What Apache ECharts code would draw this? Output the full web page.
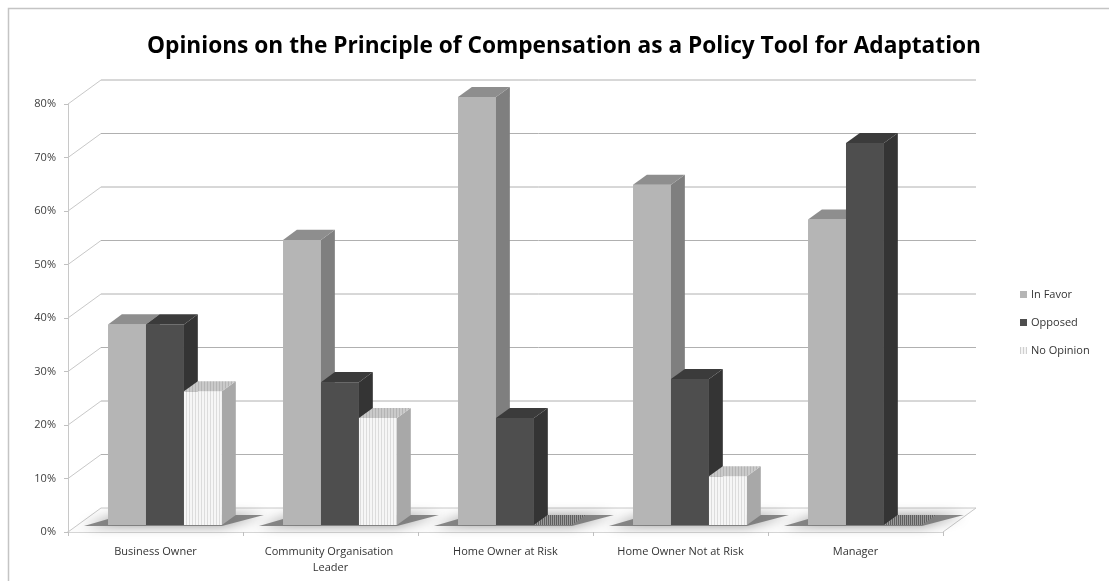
<!DOCTYPE html>
<html>
<head>
<meta charset="utf-8">
<script src="https://cdn.jsdelivr.net/npm/echarts@6/dist/echarts.min.js"></script>
<style>
  html, body { margin: 0; padding: 0; background: #fff; }
  #chart { width: 1109px; height: 581px; }
</style>
</head>
<body>
<div id="chart"></div>
<script>
// Survey shares (percent of respondents in each group)
const categories = ['Business Owner', 'Community Organisation Leader', 'Home Owner at Risk', 'Home Owner Not at Risk', 'Manager'];
const inFavor   = [37.5, 53.3, 80.0, 63.6, 57.1];
const opposed   = [37.5, 26.7, 20.0, 27.3, 71.4];
const noOpinion = [25.0, 20.0, 0.0, 9.1, 0.0];
const yTicks    = [0, 10, 20, 30, 40, 50, 60, 70, 80];
const seriesNames = ['In Favor', 'Opposed', 'No Opinion'];

// Oblique projection of the 3D box: full floor depth as a screen vector
const DEPTH = [33, -24];
const BAR_FRONT = 0.29;   // depth where the bar front faces sit
const BAR_DEPTH = 0.42;   // thickness of a bar along the depth
const BAR_W = 0.217;      // bar width as a share of the category band
const GROUP_START = 0.174;
const FONT = 'Open Sans';

function stripes(bg, line, w) {
  const c = document.createElement('canvas');
  c.width = w; c.height = 4;
  const g = c.getContext('2d');
  g.fillStyle = bg; g.fillRect(0, 0, w, 4);
  g.fillStyle = line; g.fillRect(0, 0, 1, 4);
  return { image: c, repeat: 'repeat' };
}
const noOpinionFront = stripes('#f6f6f6', '#dcdcdc', 3);
const noOpinionTop = stripes('#cacaca', '#b4b4b4', 3);
const emptyTop = stripes('#9a9a9a', '#5e5e5e', 2);

const faces = [
  { front: '#b5b5b5', side: '#7f7f7f', top: '#8e8e8e' },
  { front: '#4e4e4e', side: '#343434', top: '#3b3b3b' },
  { front: noOpinionFront, side: '#a8a8a8', top: noOpinionTop }
];

function groupLeft(api, idx) {
  const band = api.size([1, 0])[0];
  const c = api.coord([idx, 0]);
  return { x: c[0] - band / 2 + band * GROUP_START + DEPTH[0] * BAR_FRONT, y: c[1] + DEPTH[1] * BAR_FRONT, band: band };
}

function barRenderer(k) {
  return function (params, api) {
    const idx = api.value(0), v = api.value(1);
    const g = groupLeft(api, idx);
    const w = g.band * BAR_W;
    const xL = g.x + k * w, xR = xL + w;
    const yB = g.y, yT = api.coord([idx, v])[1] + DEPTH[1] * BAR_FRONT;
    const dx = DEPTH[0] * BAR_DEPTH, dy = DEPTH[1] * BAR_DEPTH;
    const f = faces[k];
    const children = [];
    if (v > 0) {
      children.push({ type: 'rect', shape: { x: xL, y: yT, width: w, height: yB - yT }, style: { fill: f.front } });
      children.push({ type: 'polygon', shape: { points: [[xR, yT], [xR + dx, yT + dy], [xR + dx, yB + dy], [xR, yB]] }, style: { fill: f.side } });
    }
    children.push({ type: 'polygon', shape: { points: [[xL, yT], [xR, yT], [xR + dx, yT + dy], [xL + dx, yT + dy]] }, style: { fill: v > 0 ? f.top : emptyTop } });
    return { type: 'group', children: children };
  };
}

// Back wall, side wall and floor lines for each tick value
function wallRenderer(params, api) {
  const v = api.value(1);
  const cs = params.coordSys;
  const y = api.coord([0, v])[1];
  const x0 = cs.x, x1 = cs.x + cs.width;
  const children = [
    { type: 'line', shape: { x1: x0, y1: y, x2: x0 + DEPTH[0], y2: y + DEPTH[1] }, style: { stroke: '#c8c8c8', lineWidth: 1 } },
    { type: 'line', shape: { x1: x0 + DEPTH[0], y1: y + DEPTH[1], x2: x1 + DEPTH[0], y2: y + DEPTH[1] }, style: { stroke: v === 0 ? '#c8c8c8' : '#b0b0b0', lineWidth: 1 } }
  ];
  if (v === 0) {
    children.unshift({ type: 'polygon', shape: { points: [[x0, y], [x1, y], [x1 + DEPTH[0], y + DEPTH[1]], [x0 + DEPTH[0], y + DEPTH[1]]] }, style: { fill: '#fbfbfb' } });
    children.push({ type: 'line', shape: { x1: x1, y1: y, x2: x1 + DEPTH[0], y2: y + DEPTH[1] }, style: { stroke: '#c8c8c8', lineWidth: 1 } });
  }
  return { type: 'group', children: children };
}

// Soft floor shadow under each bar group
function shadowRenderer(params, api) {
  const idx = api.value(0);
  const g = groupLeft(api, idx);
  const w = g.band * BAR_W * 3;
  const dx = DEPTH[0] * BAR_DEPTH, dy = DEPTH[1] * BAR_DEPTH;
  return {
    type: 'polygon',
    shape: { points: [[g.x - 24, g.y + 1], [g.x + w, g.y + 1], [g.x + w + dx + 28, g.y + dy], [g.x + dx, g.y + dy]] },
    style: { fill: 'rgba(110,110,110,0.8)', shadowBlur: 12, shadowColor: 'rgba(0,0,0,0.5)' }
  };
}

const chart = echarts.init(document.getElementById('chart'), null, { renderer: 'canvas' });
const valueSets = [inFavor, opposed, noOpinion];

const series = [
  { type: 'custom', name: 'walls', silent: true, clip: false, renderItem: wallRenderer, data: yTicks.map(v => [0, v]), z: 1 },
  { type: 'custom', name: 'shadows', silent: true, clip: false, renderItem: shadowRenderer, data: categories.map((c, i) => [i, 0]), z: 2 }
];
seriesNames.forEach((name, k) => {
  series.push({
    type: 'custom', name: name, clip: false, z: 3,
    itemStyle: { color: k === 2 ? stripes('#f4f4f4', '#cfcfcf', 3) : faces[k].front },
    renderItem: barRenderer(k),
    data: valueSets[k].map((v, i) => [i, v])
  });
});

chart.setOption({
  animation: false,
  backgroundColor: '#fff',
  title: {
    text: 'Opinions on the Principle of Compensation as a Policy Tool for Adaptation',
    left: 559, top: 30, textAlign: 'center',
    textStyle: { fontFamily: FONT, fontWeight: 'bold', fontSize: 22.7, color: '#000' }
  },
  legend: {
    data: seriesNames, orient: 'vertical', left: 1015, top: 284,
    icon: 'rect', itemWidth: 7, itemHeight: 7, itemGap: 17, itemStyle: { borderWidth: 0 },
    textStyle: { fontFamily: FONT, fontSize: 11, color: '#333', padding: [0, 0, 0, -1] }
  },
  grid: { left: 68, right: 166, top: 104, bottom: 49 },
  xAxis: {
    type: 'category', data: categories,
    axisLine: { show: true, lineStyle: { color: '#c8c8c8', width: 1.5 } },
    axisTick: { show: true, length: 4, lineStyle: { color: '#c0c0c0' } },
    axisLabel: { interval: 0, fontFamily: FONT, fontSize: 11, color: '#333', margin: 12, width: 150, overflow: 'break', lineHeight: 16 }
  },
  yAxis: {
    type: 'value', min: 0, max: 80, interval: 10,
    axisLine: { show: true, lineStyle: { color: '#c8c8c8' } },
    axisTick: { show: true, length: 4, lineStyle: { color: '#c0c0c0' } },
    splitLine: { show: false },
    axisLabel: { formatter: '{value}%', fontFamily: FONT, fontSize: 11, color: '#404040', margin: 12 }
  },
  graphic: [
    { type: 'rect', silent: true, z: 0, shape: { x: 8.5, y: 8.5, width: 1200, height: 700 }, style: { fill: null, stroke: '#c4c4c4', lineWidth: 1.5 } }
  ],
  series: series
});
</script>
</body>
</html>
